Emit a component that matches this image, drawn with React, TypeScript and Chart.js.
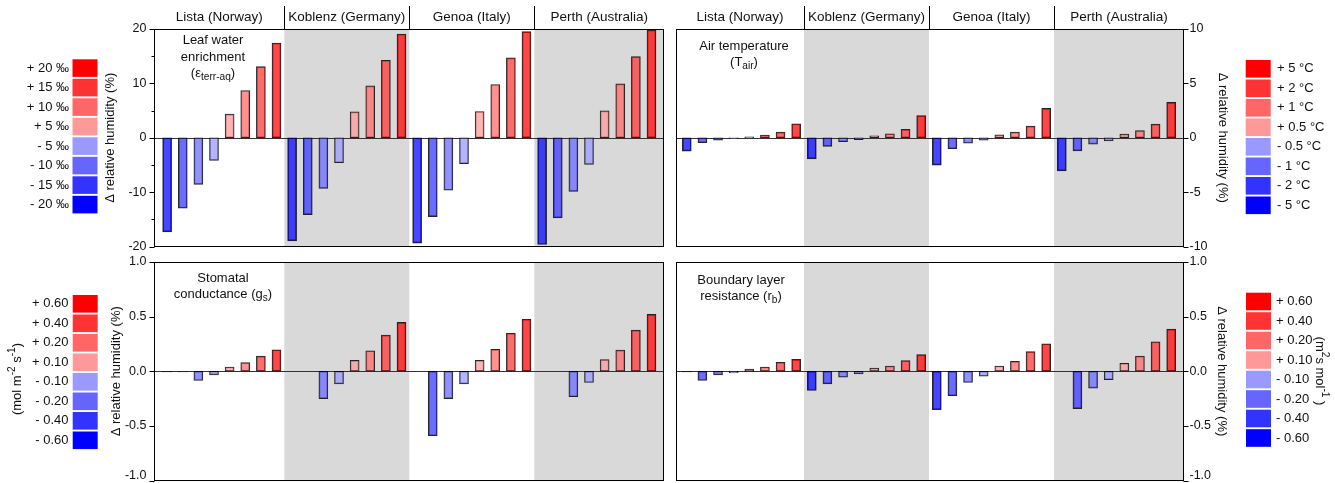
import React, { useEffect, useRef } from 'react';
import { Chart, registerables } from 'chart.js';

Chart.register(...registerables);

const W = 1335;
const H = 483;
const FONT = '"Liberation Sans", Arial, Helvetica, sans-serif';

// ---------- data ----------
const sites = ['Lista (Norway)', 'Koblenz (Germany)', 'Genoa (Italy)', 'Perth (Australia)'];

// Leaf water enrichment (Δ RH %), bars ordered -20, -15, -10, -5, +5, +10, +15, +20 ‰
const leafLista = [-17.3, -12.97, -8.56, -4.16, 4.34, 8.69, 13.09, 17.43];
const leafKoblenz = [-18.96, -14.13, -9.3, -4.59, 4.77, 9.54, 14.25, 19.08];
const leafGenoa = [-19.39, -14.5, -9.66, -4.77, 4.83, 9.79, 14.68, 19.51];
const leafPerth = [-19.63, -14.74, -9.85, -4.89, 4.95, 9.91, 14.92, 19.82];

// Air temperature, bars ordered -5, -2, -1, -0.5, +0.5, +1, +2, +5 °C
const tempLista = [-1.23, -0.46, -0.22, -0.08, 0.09, 0.25, 0.52, 1.29];
const tempKoblenz = [-1.94, -0.8, -0.37, -0.18, 0.18, 0.37, 0.77, 2.03];
const tempGenoa = [-2.52, -1.01, -0.5, -0.22, 0.28, 0.52, 1.07, 2.7];
const tempPerth = [-3.04, -1.2, -0.59, -0.28, 0.33, 0.65, 1.26, 3.25];

// Stomatal conductance, bars ordered -0.60 ... +0.60
const gsLista = [-0.005, -0.005, -0.085, -0.033, 0.039, 0.079, 0.139, 0.197];
const gsKoblenz = [null, null, -0.25, -0.115, 0.1, 0.188, 0.33, 0.448];
const gsGenoa = [null, -0.59, -0.25, -0.115, 0.1, 0.2, 0.348, 0.476];
const gsPerth = [null, null, -0.233, -0.103, 0.106, 0.194, 0.376, 0.521];

// Boundary layer resistance, bars ordered -0.60 ... +0.60
const rbLista = [-0.005, -0.085, -0.033, -0.015, 0.021, 0.039, 0.082, 0.109];
const rbKoblenz = [-0.176, -0.115, -0.055, -0.024, 0.03, 0.048, 0.097, 0.152];
const rbGenoa = [-0.352, -0.224, -0.103, -0.045, 0.048, 0.091, 0.179, 0.252];
const rbPerth = [null, -0.342, -0.155, -0.076, 0.073, 0.139, 0.27, 0.385];

const leafTicks = [20, 10, 0, -10, -20];
const leafMinorTicks = [15, 5, -5, -15];
const tempTicks = [10, 5, 0, -5, -10];
const fluxTicks = [1, 0.5, 0, -0.5, -1];

const leafLegend = ['+ 20 ‰', '+ 15 ‰', '+ 10 ‰', '+ 5 ‰', '- 5 ‰', '- 10 ‰', '- 15 ‰', '- 20 ‰'];
const tempLegend = ['+ 5 °C', '+ 2 °C', '+ 1 °C', '+ 0.5 °C', '- 0.5 °C', '- 1 °C', '- 2 °C', '- 5 °C'];
const gsLegend = ['+ 0.60', '+ 0.40', '+ 0.20', '+ 0.10', '- 0.10', '- 0.20', '- 0.40', '- 0.60'];
const rbLegend = ['+ 0.60', '+ 0.40', '+ 0.20', '+ 0.10', '- 0.10', '- 0.20', '- 0.40', '- 0.60'];

const legendColors = ['#FF0000', '#FF3333', '#FF6666', '#FF9999', '#9999FF', '#6666FF', '#3333FF', '#0000FF'];
const barColors = [...legendColors].reverse();

const yTitle = 'Δ relative humidity (%)';

// ---------- helpers ----------
type Part = { t: string; sub?: boolean; sup?: boolean };

function rgba(hex: string, a: number) {
  const n = parseInt(hex.slice(1), 16);
  return `rgba(${(n >> 16) & 255},${(n >> 8) & 255},${n & 255},${a})`;
}

function drawParts(ctx: CanvasRenderingContext2D, parts: Part[], x: number, y: number, size: number, align = 'center') {
  const sz = (p: Part) => (p.sub || p.sup ? size * 0.78 : size);
  const widths = parts.map((p) => {
    ctx.font = `${sz(p)}px ${FONT}`;
    return ctx.measureText(p.t).width;
  });
  const total = widths.reduce((a, b) => a + b, 0);
  let cx = align === 'center' ? x - total / 2 : align === 'right' ? x - total : x;
  ctx.textAlign = 'left';
  ctx.textBaseline = 'middle';
  parts.forEach((p, i) => {
    ctx.font = `${sz(p)}px ${FONT}`;
    const dy = p.sub ? size * 0.32 : p.sup ? -size * 0.35 : 0;
    ctx.fillText(p.t, cx, y + dy);
    cx += widths[i];
  });
}

type Legend = {
  x: number; y: number; w: number; h: number; pitch: number;
  labels: string[]; labelX: number; align: string;
  unit?: Part[]; unitX?: number; unitY?: number; unitRot?: number;
};

type PanelCfg = {
  area: { l: number; r: number; t: number; b: number };
  xMin: number; xMax: number; yMin: number; yMax: number;
  ticks: number[]; minor: number[]; fmt: (v: number) => string;
  side: 'left' | 'right'; titleX: number;
  series: (number | null)[][];
  note: Part[][]; noteX: number; noteY: number[];
  headers: boolean; legend: Legend;
};

const panels: PanelCfg[] = [
  {
    area: { l: 154, r: 664, t: 29, b: 246.5 },
    xMin: -0.84, xMax: 31.8, yMin: -20, yMax: 20,
    ticks: leafTicks, minor: leafMinorTicks, fmt: (v) => String(v),
    side: 'left', titleX: 110,
    series: [leafLista, leafKoblenz, leafGenoa, leafPerth],
    note: [[{ t: 'Leaf water' }], [{ t: 'enrichment' }], [{ t: '(ε' }, { t: 'terr-aq', sub: true }, { t: ')' }]],
    noteX: 213, noteY: [40.5, 57, 73.5],
    headers: true,
    legend: { x: 72.5, y: 59.3, w: 25, h: 17.6, pitch: 19.5, labels: leafLegend, labelX: 69, align: 'right' },
  },
  {
    area: { l: 676, r: 1184, t: 29, b: 246.5 },
    xMin: -0.69, xMax: 31.82, yMin: -10, yMax: 10,
    ticks: tempTicks, minor: [], fmt: (v) => String(v),
    side: 'right', titleX: 1223,
    series: [tempLista, tempKoblenz, tempGenoa, tempPerth],
    note: [[{ t: 'Air temperature' }], [{ t: '(T' }, { t: 'air', sub: true }, { t: ')' }]],
    noteX: 744, noteY: [46, 62],
    headers: true,
    legend: { x: 1245.7, y: 60, w: 25, h: 17.6, pitch: 19.5, labels: tempLegend, labelX: 1277, align: 'left' },
  },
  {
    area: { l: 154, r: 664, t: 262, b: 480.5 },
    xMin: -0.84, xMax: 31.8, yMin: -1, yMax: 1,
    ticks: fluxTicks, minor: [], fmt: (v) => v.toFixed(1),
    side: 'left', titleX: 116,
    series: [gsLista, gsKoblenz, gsGenoa, gsPerth],
    note: [[{ t: 'Stomatal' }], [{ t: 'conductance (g' }, { t: 's', sub: true }, { t: ')' }]],
    noteX: 223, noteY: [278, 294.5],
    headers: false,
    legend: {
      x: 72.7, y: 295, w: 25, h: 17.6, pitch: 19.5, labels: gsLegend, labelX: 68.5, align: 'right',
      unit: [{ t: '(mol m' }, { t: '-2', sup: true }, { t: ' s' }, { t: '-1', sup: true }, { t: ')' }],
      unitX: 17, unitY: 379, unitRot: -Math.PI / 2,
    },
  },
  {
    area: { l: 676, r: 1184, t: 262, b: 480.5 },
    xMin: -0.69, xMax: 31.82, yMin: -1, yMax: 1,
    ticks: fluxTicks, minor: [], fmt: (v) => v.toFixed(1),
    side: 'right', titleX: 1222,
    series: [rbLista, rbKoblenz, rbGenoa, rbPerth],
    note: [[{ t: 'Boundary layer' }], [{ t: 'resistance (r' }, { t: 'b', sub: true }, { t: ')' }]],
    noteX: 741, noteY: [280, 296.5],
    headers: false,
    legend: {
      x: 1246, y: 292.7, w: 25, h: 17.6, pitch: 19.5, labels: rbLegend, labelX: 1276, align: 'left',
      unit: [{ t: '(m' }, { t: '2', sup: true }, { t: 's mol' }, { t: '-1', sup: true }, { t: ' )' }],
      unitX: 1320, unitY: 371, unitRot: Math.PI / 2,
    },
  },
];

function makePlugin(cfg: PanelCfg) {
  return {
    id: 'panelDecor',
    beforeDatasetsDraw(chart: any) {
      const { ctx, chartArea: a, scales } = chart;
      const xs = scales.x;
      const ys = scales.y;
      ctx.save();
      ctx.fillStyle = '#D9D9D9';
      const bands = [[7.5, 15.5], [23.5, cfg.xMax]];
      for (const [s, e] of bands) {
        const x0 = xs.getPixelForValue(s);
        const x1 = xs.getPixelForValue(e);
        ctx.fillRect(x0, a.top, x1 - x0, a.bottom - a.top);
      }
      const y0 = Math.round(ys.getPixelForValue(0)) + 0.5;
      ctx.strokeStyle = '#333';
      ctx.lineWidth = 1;
      ctx.beginPath();
      ctx.moveTo(a.left, y0);
      ctx.lineTo(a.right, y0);
      ctx.stroke();
      ctx.restore();
    },
    afterDraw(chart: any) {
      const { ctx, chartArea: a, scales } = chart;
      const xs = scales.x;
      const ys = scales.y;
      ctx.save();
      ctx.strokeStyle = '#000';
      ctx.fillStyle = '#111';
      ctx.lineWidth = 1;
      // frame
      const L = Math.round(a.left) + 0.5;
      const R = Math.round(a.right) - 0.5;
      const T = Math.round(a.top) + 0.5;
      const B = Math.round(a.bottom) - 0.5;
      ctx.strokeRect(L, T, R - L, B - T);
      // ticks
      const axisX = cfg.side === 'left' ? L : R;
      const dir = cfg.side === 'left' ? -1 : 1;
      ctx.beginPath();
      for (const v of cfg.ticks) {
        const y = Math.round(ys.getPixelForValue(v)) + 0.5;
        ctx.moveTo(axisX, y);
        ctx.lineTo(axisX + dir * 5, y);
      }
      for (const v of cfg.minor) {
        const y = Math.round(ys.getPixelForValue(v)) + 0.5;
        ctx.moveTo(axisX, y);
        ctx.lineTo(axisX + dir * 3, y);
      }
      ctx.stroke();
      ctx.font = `12.5px ${FONT}`;
      ctx.textBaseline = 'middle';
      ctx.textAlign = cfg.side === 'left' ? 'right' : 'left';
      for (const v of cfg.ticks) {
        const y = Math.min(ys.getPixelForValue(v), H - 7);
        ctx.fillText(cfg.fmt(v), cfg.side === 'left' ? axisX - 8 : axisX + 6, y);
      }
      // axis title
      ctx.save();
      ctx.translate(cfg.titleX, (a.top + a.bottom) / 2);
      ctx.rotate(cfg.side === 'left' ? -Math.PI / 2 : Math.PI / 2);
      ctx.font = `13px ${FONT}`;
      ctx.textAlign = 'center';
      ctx.textBaseline = 'middle';
      ctx.fillText(yTitle, 0, 0);
      ctx.restore();
      // headers
      if (cfg.headers) {
        const bounds = [a.left, xs.getPixelForValue(7.5), xs.getPixelForValue(15.5), xs.getPixelForValue(23.5), a.right];
        ctx.font = `13.5px ${FONT}`;
        ctx.textAlign = 'center';
        ctx.textBaseline = 'middle';
        sites.forEach((s, i) => ctx.fillText(s, (bounds[i] + bounds[i + 1]) / 2, 17));
        ctx.beginPath();
        for (let i = 1; i <= 3; i++) {
          const x = Math.round(bounds[i]) + 0.5;
          ctx.moveTo(x, 6);
          ctx.lineTo(x, a.top);
        }
        ctx.stroke();
      }
      // note
      cfg.note.forEach((line, i) => drawParts(ctx, line, cfg.noteX, cfg.noteY[i], 13));
      // legend
      const lg = cfg.legend;
      lg.labels.forEach((lab, i) => {
        const y = lg.y + i * lg.pitch;
        ctx.fillStyle = legendColors[i];
        ctx.fillRect(lg.x, y, lg.w, lg.h);
        ctx.fillStyle = '#111';
        ctx.font = `13px ${FONT}`;
        ctx.textAlign = lg.align as CanvasTextAlign;
        ctx.textBaseline = 'middle';
        ctx.fillText(lab, lg.labelX, y + lg.h / 2);
      });
      if (lg.unit) {
        ctx.save();
        ctx.translate(lg.unitX!, lg.unitY!);
        ctx.rotate(lg.unitRot!);
        drawParts(ctx, lg.unit, 0, 0, 13);
        ctx.restore();
      }
      ctx.restore();
    },
  };
}

function Panel({ cfg }: { cfg: PanelCfg }) {
  const ref = useRef<HTMLCanvasElement>(null);
  useEffect(() => {
    const canvas = ref.current!;
    const data: { x: number; y: number | null }[] = [];
    const colors: string[] = [];
    cfg.series.forEach((arr, r) =>
      arr.forEach((v, i) => {
        data.push({ x: r * 8 + i, y: v });
        colors.push(rgba(barColors[i], 0.72));
      })
    );
    const chart = new Chart(canvas, {
      type: 'bar',
      data: {
        datasets: [
          {
            data: data as any,
            backgroundColor: colors,
            borderColor: 'rgba(0,0,0,0.85)',
            borderWidth: 1,
            borderSkipped: false,
            barThickness: 9,
          } as any,
        ],
      },
      options: {
        responsive: false,
        maintainAspectRatio: false,
        animation: false,
        events: [],
        layout: {
          padding: { left: cfg.area.l, right: W - cfg.area.r, top: cfg.area.t, bottom: H - cfg.area.b },
        },
        plugins: { legend: { display: false }, tooltip: { enabled: false }, title: { display: false } },
        scales: {
          x: { type: 'linear', display: false, min: cfg.xMin, max: cfg.xMax, offset: false },
          y: { type: 'linear', display: false, min: cfg.yMin, max: cfg.yMax },
        },
      } as any,
      plugins: [makePlugin(cfg) as any],
    });
    return () => chart.destroy();
  }, [cfg]);
  return (
    <canvas
      ref={ref}
      width={W}
      height={H}
      style={{ position: 'absolute', left: 0, top: 0, width: W, height: H }}
    />
  );
}

export default function App() {
  return (
    <div style={{ position: 'absolute', left: 0, top: 0, width: W, height: H, overflow: 'hidden', background: '#fff' }}>
      {panels.map((p, i) => (
        <Panel key={i} cfg={p} />
      ))}
    </div>
  );
}
